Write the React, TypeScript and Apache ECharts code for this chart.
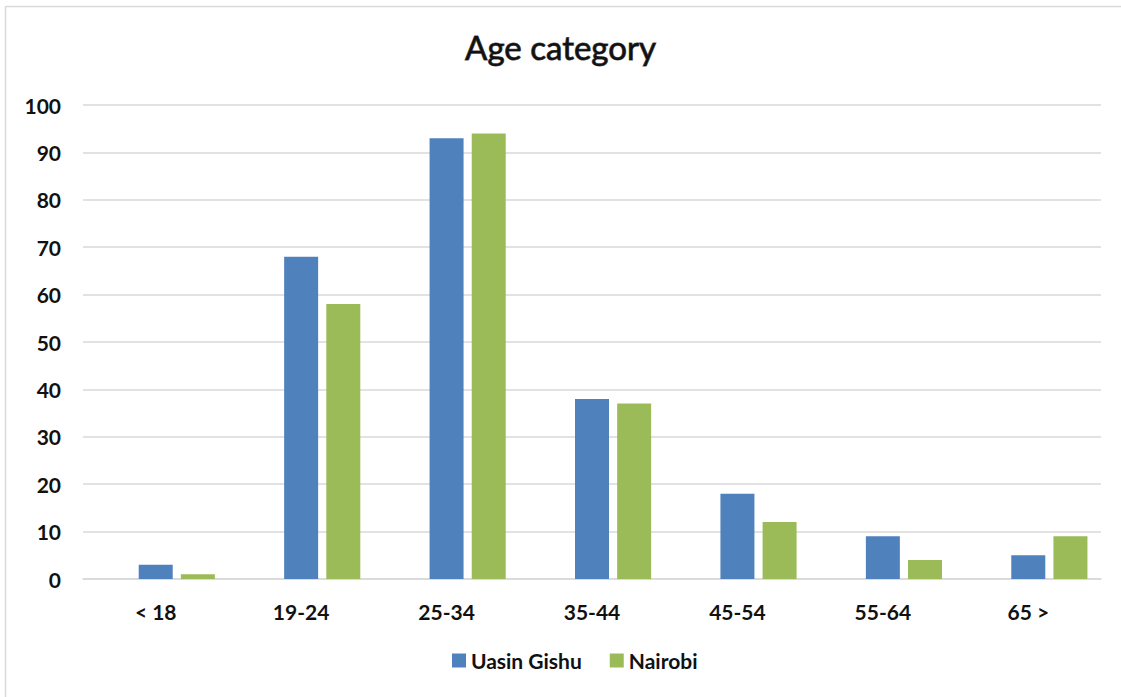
import React, { useEffect, useRef } from "react";
import * as echarts from "echarts";

const categories = ["< 18", "19-24", "25-34", "35-44", "45-54", "55-64", "65 >"];
const uasinGishu = [3, 68, 93, 38, 18, 9, 5];
const nairobi = [1, 58, 94, 37, 12, 4, 9];
const seriesNames = ["Uasin Gishu", "Nairobi"];
const titleText = "Age category";

const FONT = "Lato, 'Open Sans', 'Noto Sans', sans-serif";

export default function App() {
  const ref = useRef<HTMLDivElement>(null);

  useEffect(() => {
    if (!ref.current) return;
    const chart = echarts.init(ref.current, undefined, { renderer: "svg" });
    chart.setOption({
      animation: false,
      backgroundColor: "#ffffff",
      title: {
        text: titleText,
        left: "center",
        top: 25,
        textStyle: {
          fontFamily: FONT,
          fontSize: 33,
          fontWeight: "normal",
          color: "#111111",
          textBorderColor: "#555555",
          textBorderWidth: 1,
        },
      },
      legend: {
        bottom: 21,
        left: 447,
        itemWidth: 14,
        itemHeight: 14,
        itemGap: 28,
        icon: "rect",
        textStyle: {
          fontFamily: FONT,
          fontSize: 21,
          fontWeight: "bold",
          color: "#111111",
        },
        data: seriesNames,
      },
      grid: {
        left: 83,
        right: 20,
        top: 105,
        bottom: 118,
        containLabel: false,
      },
      xAxis: {
        type: "category",
        data: categories,
        axisLine: { show: true, lineStyle: { color: "#d9d9d9", width: 1.5 } },
        axisTick: { show: false },
        axisLabel: {
          margin: 22,
          fontFamily: FONT,
          fontSize: 21,
          fontWeight: "bold",
          color: "#111111",
        },
      },
      yAxis: {
        type: "value",
        min: 0,
        max: 100,
        interval: 10,
        axisLine: { show: false },
        axisTick: { show: false },
        axisLabel: {
          margin: 22,
          fontFamily: FONT,
          fontSize: 21,
          fontWeight: "bold",
          color: "#111111",
        },
        splitLine: { lineStyle: { color: "#d9d9d9", width: 1.5 } },
      },
      series: [
        {
          // empty leading slot in each cluster (no data drawn)
          name: "",
          type: "bar",
          data: [],
          barWidth: 34,
          barGap: "24%",
        },
        {
          name: seriesNames[0],
          type: "bar",
          data: uasinGishu,
          barWidth: 34,
          barGap: "24%",
          itemStyle: { color: "#4F81BD" },
        },
        {
          name: seriesNames[1],
          type: "bar",
          data: nairobi,
          barWidth: 34,
          barGap: "24%",
          itemStyle: { color: "#9BBB59" },
        },
      ],
      graphic: [
        {
          type: "line",
          shape: { x1: 5.5, y1: 6.5, x2: 1121, y2: 6.5 },
          style: { stroke: "#d9d9d9", lineWidth: 1.5 },
        },
        {
          type: "line",
          shape: { x1: 5.5, y1: 6.5, x2: 5.5, y2: 697 },
          style: { stroke: "#d9d9d9", lineWidth: 1.5 },
        },
      ],
    });
    return () => chart.dispose();
  }, []);

  return (
    <div
      ref={ref}
      style={{ position: "fixed", left: 0, top: 0, width: 1121, height: 697 }}
    />
  );
}
